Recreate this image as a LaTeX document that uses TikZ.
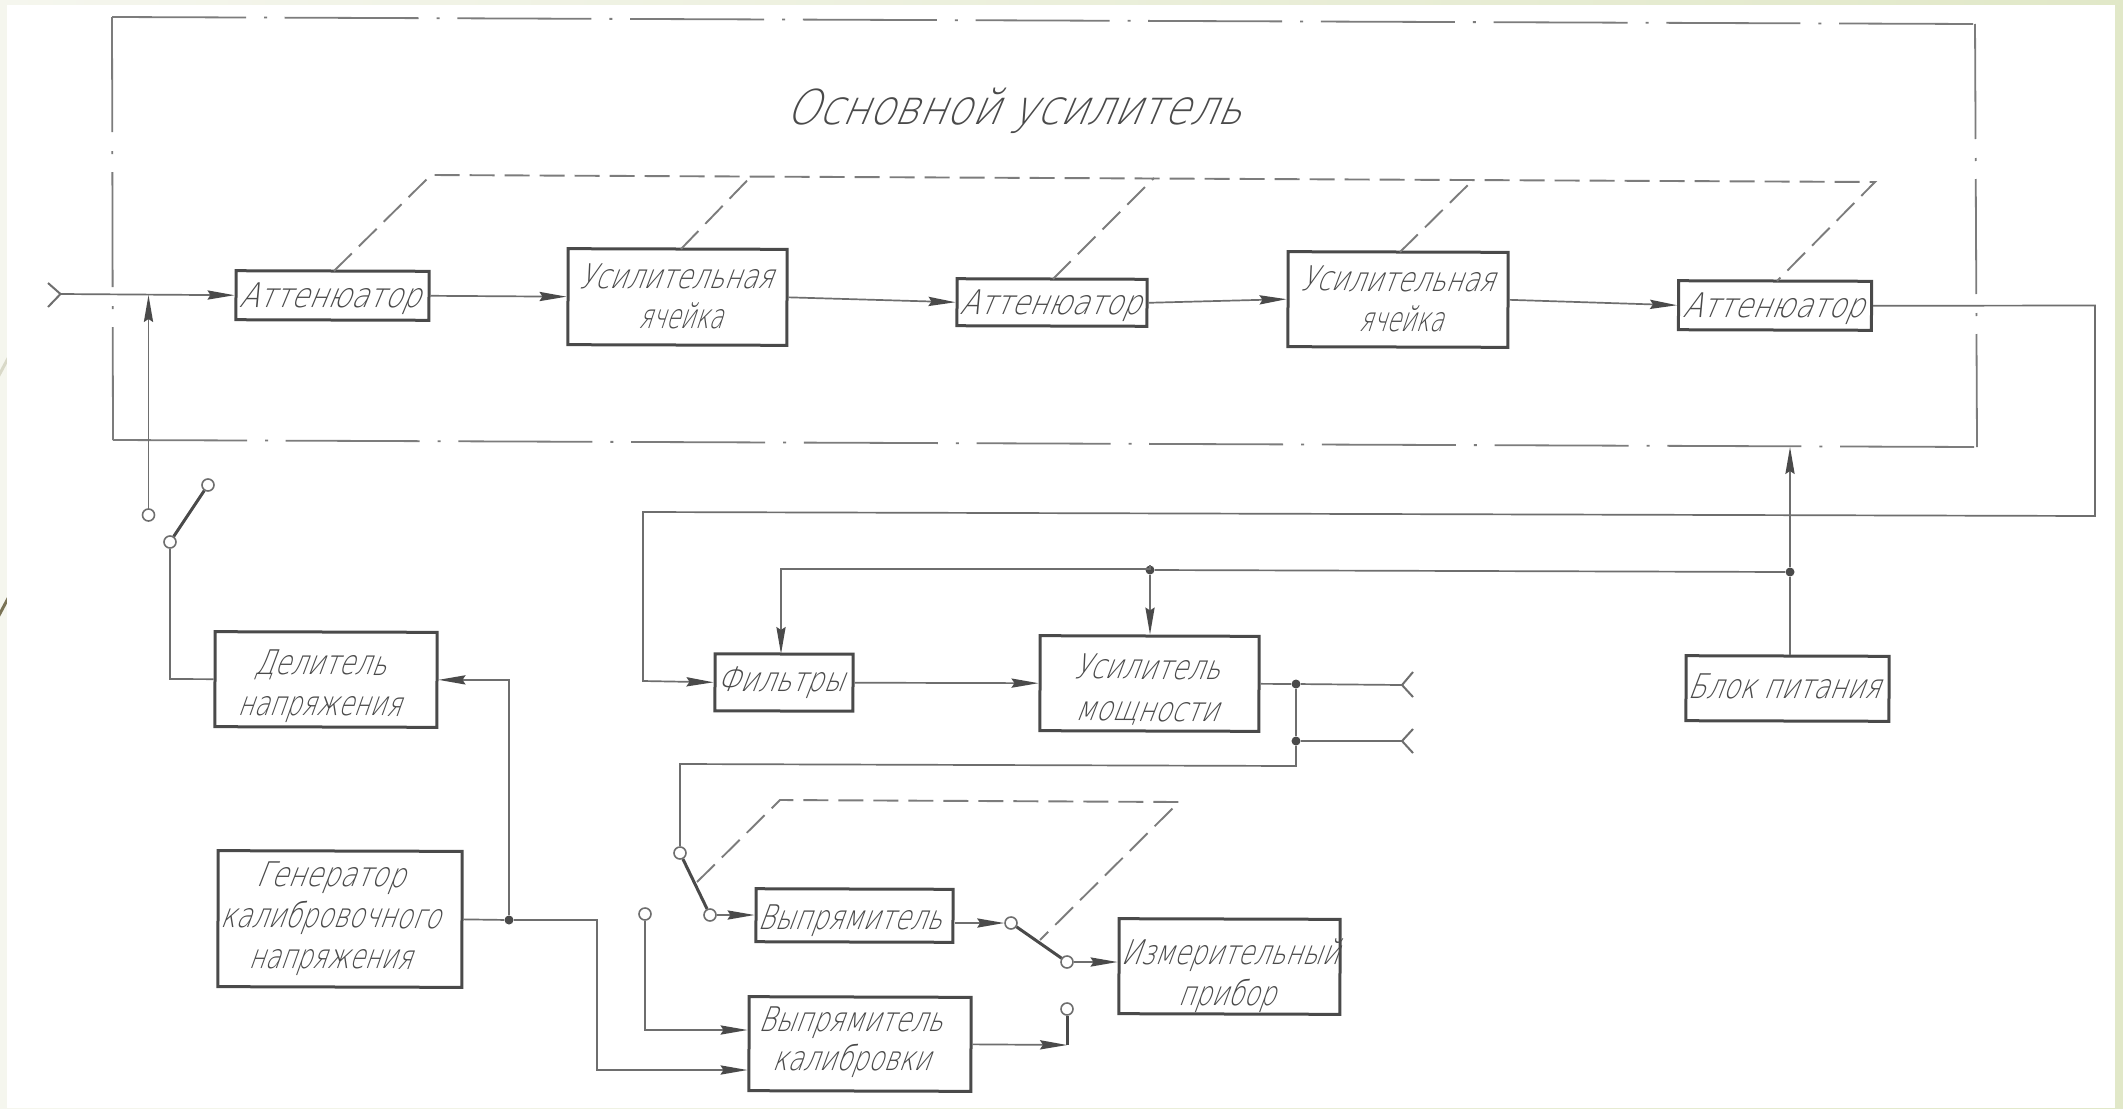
\documentclass[tikz,border=0pt]{standalone}
\usepackage{graphicx}
\usepackage{fontspec}
\usetikzlibrary{arrows.meta,calc}
\newfontfamily\gost[FakeSlant=0.35,FakeStretch=0.72]{DejaVu Sans ExtraLight}
\newlength{\pxl}\setlength{\pxl}{0.5pt}
% \tx{dx}{dy}{width}{text}: dx, dy, width in reference pixels
\newcommand{\tx}[4]{\leavevmode\kern#1pt\raisebox{-#2\pxl}[\height][\depth]{\resizebox{#3\pxl}{\height}{#4}}}
\definecolor{ink}{HTML}{4A4A4A}
\definecolor{wire}{HTML}{6E6E6E}
\definecolor{fr}{HTML}{7C7C7C}
\definecolor{bandL}{HTML}{F5F6EE}
\definecolor{bandR}{HTML}{E1E8C8}
\definecolor{decoA}{HTML}{D9D9C8}
\definecolor{decoB}{HTML}{7A7355}
\tikzset{
 box/.style={draw=ink,line width=1.5pt,inner sep=0pt,align=center,text=ink,rotate=-0.17,
   font=\gost\fontsize{17}{20.5}\selectfont},
 lbl/.style={inner sep=0pt,text=ink,font=\gost\fontsize{24}{28}\selectfont},
 wireln/.style={draw=wire,line width=0.85pt},
 arr/.style={wireln,-{Stealth[length=13.5pt,width=4.6pt,inset=1.5pt,color=ink]}},
 mech/.style={draw=fr,line width=0.95pt,dash pattern=on 12.5pt off 5pt},
 frameh/.style={draw=fr,line width=0.9pt,dash pattern=on 67pt off 9pt on 1.5pt off 8.85pt},
 framev/.style={draw=fr,line width=0.9pt,dash pattern=on 57.5pt off 9.5pt on 1.5pt off 9pt},
 term/.style={circle,draw=wire,fill=white,line width=0.8pt,minimum size=6pt,inner sep=0pt},
 jn/.style={circle,fill=ink,minimum size=4.5pt,inner sep=0pt},
 swing/.style={draw=ink,line width=1.5pt},
 fork/.style={draw=wire,line width=1pt},
}
\begin{document}
\begin{tikzpicture}[x=0.5pt,y=-0.5pt]
\useasboundingbox (0,0) rectangle (2123,1108);
\shade[left color=bandL,right color=bandR,draw=none] (0,0) rectangle (2123,1108);
\draw[draw=decoA,line width=1.5pt] (-3,379) -- (12,351);
\draw[draw=decoB,line width=1.5pt] (-3,619) -- (12,591);
\fill[white] (7,5) rectangle (2115,1108);
% dash-dot enclosure
\coordinate (ftl) at (112,17);
\coordinate (ftr) at (1975,24);
\coordinate (fbl) at (113,440);
\coordinate (fbr) at (1977,447);
\draw[frameh] (ftl) -- (ftr);
\draw[frameh] (fbl) -- (fbr);
\draw[framev] (ftl) -- (fbl);
\draw[framev] (ftr) -- (fbr);
\node[lbl,anchor=base] (title) at (1013,124) {\resizebox{455\pxl}{\height}{Основной усилитель}};
% blocks
\node[box,minimum width=96.5pt,minimum height=24.5pt] (a1) at (332.5,295.5) {\tx{-3}{3}{181}{Аттенюатор}};
\node[box,minimum width=109.5pt,minimum height=48pt] (u1) at (677.5,297) {\tx{-2}{0}{194}{Усилительная}\\\tx{3}{-1}{84}{ячейка}};
\node[box,minimum width=95pt,minimum height=23.5pt] (a2) at (1052,302.5) {\tx{-2}{3}{181}{Аттенюатор}};
\node[box,minimum width=110pt,minimum height=47.5pt] (u2) at (1398,299.5) {\tx{-1}{0}{194}{Усилительная}\\\tx{3}{-1}{84}{ячейка}};
\node[box,minimum width=96.5pt,minimum height=24.5pt] (a3) at (1775,305.5) {\tx{-2}{3}{181}{Аттенюатор}};
\node[box,minimum width=111pt,minimum height=47.5pt] (del) at (326,679.5) {\tx{-6}{7}{132}{Делитель}\\\tx{-7}{7}{163}{напряжения}};
\node[box,minimum width=122pt,minimum height=68pt] (gen) at (340,919) {\tx{-10}{0}{149}{Генератор}\\\tx{-10}{0}{220}{калибровочного}\\\tx{-10}{0}{163}{напряжения}};
\node[box,minimum width=69pt,minimum height=28.5pt] (fil) at (784,682.5) {\tx{-4}{0}{127}{Фильтры}};
\node[box,minimum width=109.5pt,minimum height=47.5pt] (um) at (1149.5,683.5) {\tx{-3}{6}{146}{Усилитель}\\\tx{-3}{7}{143}{мощности}};
\node[box,minimum width=101.5pt,minimum height=32.5pt] (bp) at (1787.5,688.5) {\tx{-4}{-2}{192}{Блок питания}};
\node[box,minimum width=98.5pt,minimum height=26.5pt] (v1) at (854.5,915.5) {\tx{-5}{5}{184}{Выпрямитель}};
\node[box,minimum width=111pt,minimum height=47pt] (vk) at (860,1044) {\tx{-10}{-1}{184}{Выпрямитель}\\\tx{-9}{-3}{158}{калибровки}};
\node[box,minimum width=110.5pt,minimum height=47.5pt] (izm) at (1229.5,966.5) {\tx{0}{9}{218}{Измерительный}\\\tx{-3}{9}{97}{прибор}};
% terminals
\node[term] (t1) at (148.5,515) {};
\node[term] (t2) at (208,485) {};
\node[term] (t3) at (170,542) {};
\node[term] (t4) at (645,914) {};
\node[term] (t5) at (680,853) {};
\node[term] (t6) at (710,915) {};
\node[term] (t7) at (1011,923) {};
\node[term] (t8) at (1067,962) {};
\node[term] (t9) at (1067,1009) {};
% junctions
\node[jn] (j1) at (509,920) {};
\node[jn] (j2) at (1790,572) {};
\node[jn] (j3) at (1150,570) {};
\node[jn] (j4) at (1296,684) {};
\node[jn] (j5) at (1296,741) {};
% free coordinates
\coordinate (in) at (60.5,294);
\coordinate (inA) at (48,283);
\coordinate (inB) at (48,307);
\coordinate (inJ) at (148.5,295);
\coordinate (o1) at (1402,685);
\coordinate (o1a) at (1413,672);
\coordinate (o1b) at (1413,697);
\coordinate (o2) at (1402,741);
\coordinate (o2a) at (1413,729);
\coordinate (o2b) at (1413,753);
\coordinate (filtop) at (781,654);
\coordinate (vkout) at (1067,1045);
% input
\draw[fork] (inA) -- (in) -- (inB);
\draw[arr] (in) -- (a1.west);
\draw[arr] (t1) -- (inJ);
% main chain
\draw[arr] (a1.east) -- (u1.west);
\draw[arr] (u1.east) -- (a2.west);
\draw[arr] (a2.east) -- (u2.west);
\draw[arr] (u2.east) -- (a3.west);
\draw[arr] (a3.east) -- (2095,305.5) -- (2095,516) -- (643,512) -- (643,681) -- (fil.west);
\draw[arr] (fil.east) -- (um.west);
% output
\draw[wireln] (um.east) -- (j4);
\draw[wireln] (j4) -- (o1);
\draw[wireln] (j4) -- (j5);
\draw[wireln] (j5) -- (o2);
\draw[fork] (o1a) -- (o1) -- (o1b);
\draw[fork] (o2a) -- (o2) -- (o2b);
\draw[wireln] (j5) -- (1296,766) -- (680,764) -- (t5);
% power
\draw[wireln] (bp.north -| j2) -- (j2);
\draw[arr] (j2) -- (1790,447);
\draw[wireln] (j2) -- (j3);
\draw[arr] (j3) -- (1150,569) -- (781,569) -- (filtop);
\draw[arr] (j3) -- (um.north -| j3);
% switches
\draw[swing] (t2) -- (t3);
\draw[swing] (t5) -- (t6);
\draw[swing] (t7) -- (t8);
\draw[wireln] (t3) -- (170,679) -- (del.west);
% calibration
\draw[wireln] (gen.east) -- (j1);
\draw[arr] (j1) -- (509,680) -- (del.east);
\draw[arr] (j1) -- (597,920) -- (597,1070) -- (vk.west |- 0,1070);
\draw[arr] (t4) -- (645,1030) -- (vk.west |- 0,1030);
\draw[arr] (vk.east) -- (vkout);
\draw[swing] (vkout) -- (t9);
\draw[arr] (t6) -- (v1.west |- t6);
\draw[arr] (v1.east |- t7) -- (t7);
\draw[arr] (t8) -- (izm.west |- t8);
% mechanical links
\draw[mech] (334,271) -- (431,175) -- (1875,182) -- (1777,281);
\draw[mech] (681,249) -- (750,177.5);
\draw[mech] (1053,279) -- (1154,178);
\draw[mech] (1400,252) -- (1473,180);
\draw[mech] (697,882) -- (780,800) -- (1179,802) -- (1040,940);
\end{tikzpicture}
\end{document}
